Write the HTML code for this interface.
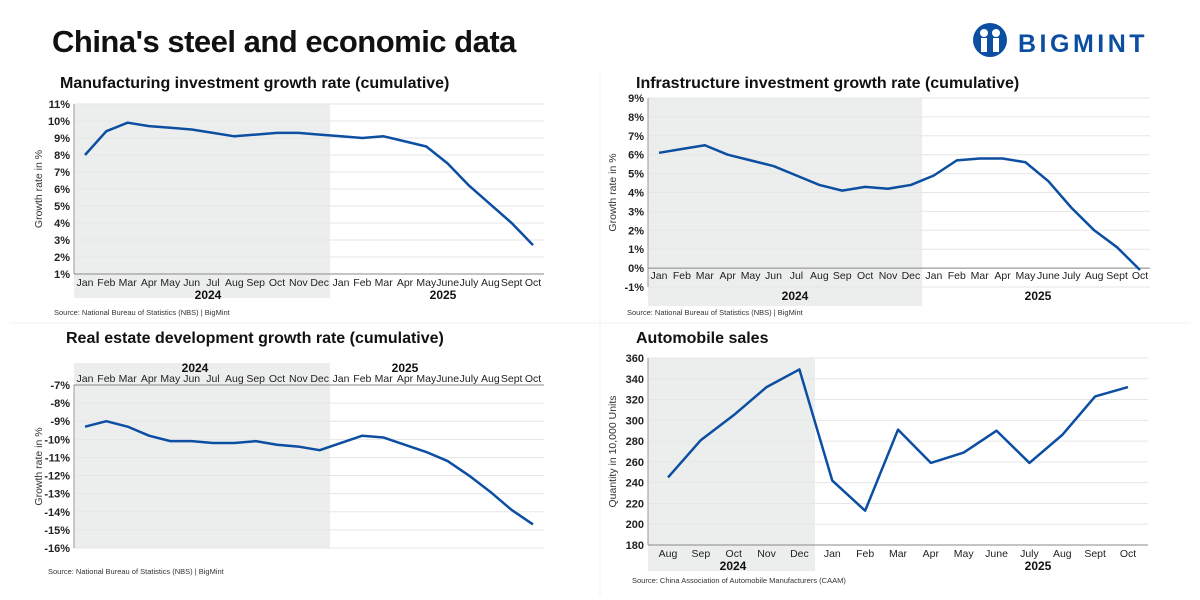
<!DOCTYPE html>
<html><head><meta charset="utf-8"><style>
body{margin:0;width:1200px;height:600px;background:#fff;font-family:"Liberation Sans",sans-serif;overflow:hidden;position:relative}
.t{position:absolute;font-weight:bold;color:#111}
</style></head><body>
<div class="t" style="left:52px;top:24px;font-size:31px;letter-spacing:-0.5px">China's steel and economic data</div>
<div style="position:absolute;left:972px;top:22px;width:200px;height:36px">
<svg width="200" height="36"><circle cx="18" cy="18" r="17" fill="#0b4ea2"/><circle cx="12" cy="11" r="4" fill="#fff"/><circle cx="24" cy="11" r="4" fill="#fff"/><rect x="9" y="16" width="6" height="14" fill="#fff"/><rect x="21" y="16" width="6" height="14" fill="#fff"/>
<text x="46" y="30" font-family="Liberation Sans" font-weight="bold" font-size="25" letter-spacing="3.5" fill="#0b4ea2">BIGMINT</text></svg></div>
<svg id="s" width="1200" height="600" style="position:absolute;left:0;top:0"></svg>
<script>
const m24=["Jan","Feb","Mar","Apr","May","Jun","Jul","Aug","Sep","Oct","Nov","Dec"];
const m25=["Jan","Feb","Mar","Apr","May","June","July","Aug","Sept","Oct"];
const m25b=["Jan","Feb","Mar","Apr","May","June","July","Aug","Sept","Oct"];
const mfgValues=[8.0,9.4,9.9,9.7,9.6,9.5,9.3,9.1,9.2,9.3,9.3,9.2,9.1,9.0,9.1,8.8,8.5,7.5,6.2,5.1,4.0,2.7];
const infraValues=[6.1,6.3,6.5,6.0,5.7,5.4,4.9,4.4,4.1,4.3,4.2,4.4,4.9,5.7,5.8,5.8,5.6,4.6,3.2,2.0,1.1,-0.1];
const reValues=[-9.3,-9.0,-9.3,-9.8,-10.1,-10.1,-10.2,-10.2,-10.1,-10.3,-10.4,-10.6,-10.2,-9.8,-9.9,-10.3,-10.7,-11.2,-12.0,-12.9,-13.9,-14.7];
const autoCats=["Aug","Sep","Oct","Nov","Dec","Jan","Feb","Mar","Apr","May","June","July","Aug","Sept","Oct"];
const autoValues=[245,281,305,332,349,242,213,291,259,269,290,259,286,323,332];
const mfgTicks=[1,2,3,4,5,6,7,8,9,10,11];
const infraTicks=[-1,0,1,2,3,4,5,6,7,8,9];
const reTicks=[-16,-15,-14,-13,-12,-11,-10,-9,-8,-7];
const autoTicks=[180,200,220,240,260,280,300,320,340,360];
const S=document.getElementById('s');const NS="http://www.w3.org/2000/svg";
function el(t,a,txt){const e=document.createElementNS(NS,t);for(const k in a)e.setAttribute(k,a[k]);if(txt!==undefined)e.textContent=txt;S.appendChild(e);return e;}
function chart(c){
  const y=v=>c.y0+(v-c.vmin)/(c.vmax-c.vmin)*(c.y1-c.y0);
  const n=c.values.length;const x=i=>c.xa+(c.xb-c.xa)*i/(n-1);
  let r=el('rect',{x:c.x0,y:c.shT,width:c.shX-c.x0,height:c.shB-c.shT,fill:'#eceeed'});
  
  c.ticks.forEach(t=>{const g=el('line',{x1:c.x0,x2:c.x1,y1:y(t),y2:y(t),stroke:'#e6e6e6','stroke-width':1});
    
    const l=el('text',{x:c.x0-4,y:y(t)+4,'text-anchor':'end','font-size':11,'font-weight':'bold',fill:'#222'},c.fmt(t));
    });
  el('line',{x1:c.x0,x2:c.x0,y1:c.y1,y2:c.y0,stroke:'#999'});
  el('line',{x1:c.x0,x2:c.x1,y1:y(c.axisV),y2:y(c.axisV),stroke:'#888'});
  c.cats.forEach((m,i)=>{const l=el('text',{x:x(i),y:c.labY,'text-anchor':'middle','font-size':10.5,fill:'#222'},m);
    });
  c.years.forEach(yr=>{const l=el('text',{x:yr[1],y:yr[2],'text-anchor':'middle','font-size':12,'font-weight':'bold',fill:'#111'},yr[0]);
    });
  const p=el('polyline',{points:c.values.map((v,i)=>x(i)+','+y(v)).join(' '),fill:'none',stroke:'#0b4ea2','stroke-width':2.5,'stroke-linejoin':'round'});
  
  const t=el('text',{x:c.tx,y:c.ty,'font-size':16,'font-weight':'bold',fill:'#111'},c.title);
  
  const a=el('text',{transform:`translate(${c.x0-32},${(c.y0+c.y1)/2}) rotate(-90)`,'text-anchor':'middle','font-size':10.5,fill:'#333'},c.ylab);
  
  const s=el('text',{x:c.srcX,y:c.srcY,'font-size':7.5,fill:'#333'},c.src);
  
}
const pc=v=>v+'%';const nbs='Source: National Bureau of Statistics (NBS) |  BigMint';
el('line',{x1:600,x2:600,y1:70,y2:595,stroke:'#f0f0f0'});el('line',{x1:10,x2:1190,y1:323,y2:323,stroke:'#f0f0f0'});
chart({name:'manufacturing',values:mfgValues,cats:m24.concat(m25),ticks:mfgTicks,vmin:1,vmax:11,y0:274,y1:104,x0:74,x1:544,xa:85,xb:533,shX:330,shT:104,shB:298,axisV:1,labY:286,years:[['2024',208,299],['2025',443,299]],fmt:pc,title:'Manufacturing investment growth rate (cumulative)',tx:60,ty:88,ylab:'Growth rate in %',src:nbs,srcX:54,srcY:315});
chart({name:'infrastructure',values:infraValues,cats:m24.concat(m25),ticks:infraTicks,vmin:-1,vmax:9,y0:287,y1:98,x0:648,x1:1150,xa:659,xb:1140,shX:922,shT:98,shB:306,axisV:0,labY:279,years:[['2024',795,300],['2025',1038,300]],fmt:pc,title:'Infrastructure investment growth rate (cumulative)',tx:636,ty:88,ylab:'Growth rate in %',src:'Source: National Bureau of Statistics (NBS) |  BigMint',srcX:627,srcY:315});
chart({name:'real-estate',values:reValues,cats:m24.concat(m25b),ticks:reTicks,vmin:-16,vmax:-7,y0:548,y1:385,x0:74,x1:544,xa:85,xb:533,shX:330,shT:363,shB:548,axisV:-7,labY:382,years:[['2024',195,372],['2025',405,372]],fmt:pc,title:'Real estate development growth rate (cumulative)',tx:66,ty:343,ylab:'Growth rate in %',src:nbs,srcX:48,srcY:574});
chart({name:'automobile-sales',values:autoValues,cats:autoCats,ticks:autoTicks,vmin:180,vmax:360,y0:545,y1:358,x0:648,x1:1148,xa:668,xb:1128,shX:815,shT:358,shB:571,axisV:180,labY:557,years:[['2024',733,570],['2025',1038,570]],fmt:v=>v,title:'Automobile sales',tx:636,ty:343,ylab:'Quantity in 10,000 Units',src:'Source: China Association of Automobile Manufacturers (CAAM)',srcX:632,srcY:583});
</script></body></html>
